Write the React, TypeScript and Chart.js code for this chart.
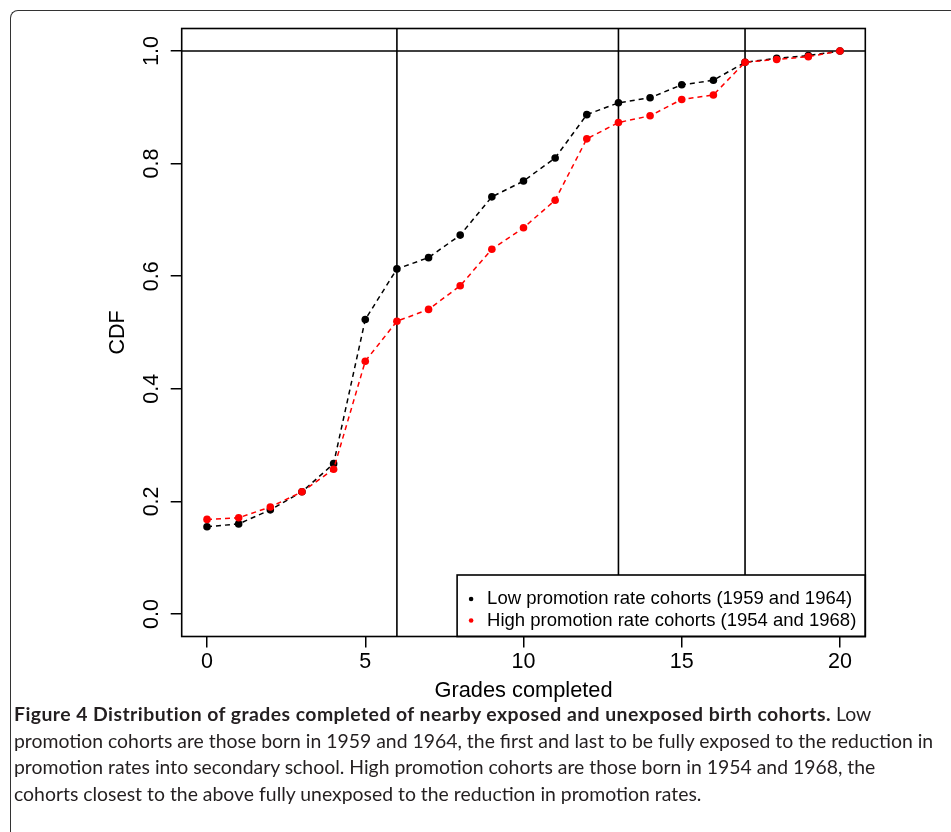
import React, { useEffect, useRef } from "react";
import { Chart, registerables } from "chart.js";

Chart.register(...registerables);

// ---------- data ----------
const grades = [0, 1, 2, 3, 4, 5, 6, 7, 8, 9, 10, 11, 12, 13, 14, 15, 16, 17, 18, 19, 20];
const lowPromotionCDF = [0.155, 0.160, 0.185, 0.217, 0.267, 0.523, 0.613, 0.633, 0.673, 0.741, 0.769, 0.810, 0.887, 0.908, 0.917, 0.940, 0.948, 0.980, 0.987, 0.992, 1.0];
const highPromotionCDF = [0.168, 0.171, 0.190, 0.217, 0.257, 0.449, 0.520, 0.541, 0.583, 0.648, 0.686, 0.735, 0.844, 0.873, 0.885, 0.914, 0.922, 0.980, 0.985, 0.990, 1.0];
const seriesLabels = ["Low promotion rate cohorts (1959 and 1964)", "High promotion rate cohorts (1954 and 1968)"];
const seriesColors = ["#000000", "#ff0000"];
const xTickValues = [0, 5, 10, 15, 20];
const yTickValues = [0, 0.2, 0.4, 0.6, 0.8, 1.0];
const verticalRefLines = [6, 13, 17];
const horizontalRefLines = [1];
const xAxisTitle = "Grades completed";
const yAxisTitle = "CDF";
const xRange = [-0.8, 20.8];
const yRange = [-0.04, 1.04];

const RFONT = '"Liberation Sans", Arial, Helvetica, sans-serif';
const CANVAS_W = 951;
const CANVAS_H = 832;

const decorPlugin = {
  id: "decor",
  beforeDatasetsDraw(chart: any) {
    const { ctx, chartArea: a, scales } = chart;
    const x = scales.x;
    const y = scales.y;
    ctx.save();
    ctx.strokeStyle = "#000";
    ctx.lineWidth = 1.6;
    for (const v of verticalRefLines) {
      const px = x.getPixelForValue(v);
      ctx.beginPath();
      ctx.moveTo(px, a.top);
      ctx.lineTo(px, a.bottom);
      ctx.stroke();
    }
    for (const v of horizontalRefLines) {
      const py = y.getPixelForValue(v);
      ctx.beginPath();
      ctx.moveTo(a.left, py);
      ctx.lineTo(a.right, py);
      ctx.stroke();
    }
    ctx.restore();
  },
  afterDatasetsDraw(chart: any) {
    const { ctx, chartArea: a } = chart;
    ctx.save();
    // legend (bottom right, inside plot)
    ctx.font = `18.5px ${RFONT}`;
    const tw = Math.max(...seriesLabels.map((l) => ctx.measureText(l).width));
    const boxW = 30 + tw + 9;
    const boxH = 61.5;
    const left = a.right - boxW;
    const top = a.bottom - boxH;
    ctx.fillStyle = "#fff";
    ctx.fillRect(left, top, boxW, boxH);
    ctx.strokeStyle = "#000";
    ctx.lineWidth = 1.6;
    ctx.strokeRect(left, top, boxW, boxH);
    const rows = [top + 24, top + 45.5];
    seriesLabels.forEach((label, i) => {
      ctx.fillStyle = seriesColors[i];
      ctx.beginPath();
      ctx.arc(left + 14, rows[i], 2.3, 0, Math.PI * 2);
      ctx.fill();
      ctx.fillStyle = "#000";
      ctx.textBaseline = "middle";
      ctx.textAlign = "left";
      ctx.fillText(label, left + 30, rows[i]);
    });
    // plot frame
    ctx.strokeStyle = "#000";
    ctx.lineWidth = 1.6;
    ctx.strokeRect(a.left, a.top, a.right - a.left, a.bottom - a.top);
    ctx.restore();
  },
};

export default function App() {
  const canvasRef = useRef<HTMLCanvasElement | null>(null);

  useEffect(() => {
    const canvas = canvasRef.current;
    if (!canvas) return;
    const makeData = (vals: number[]) => grades.map((g, i) => ({ x: g, y: vals[i] }));
    const common = {
      borderWidth: 1.5,
      borderDash: [5, 4],
      pointRadius: 3.8,
      pointBorderWidth: 0,
      pointHoverRadius: 3.8,
      fill: false,
      tension: 0,
    };
    const chart = new Chart(canvas, {
      type: "line",
      data: {
        datasets: [
          {
            ...common,
            label: seriesLabels[0],
            data: makeData(lowPromotionCDF),
            borderColor: seriesColors[0],
            backgroundColor: seriesColors[0],
            pointBackgroundColor: seriesColors[0],
            pointBorderColor: seriesColors[0],
            order: 1,
          },
          {
            ...common,
            label: seriesLabels[1],
            data: makeData(highPromotionCDF),
            borderColor: seriesColors[1],
            backgroundColor: seriesColors[1],
            pointBackgroundColor: seriesColors[1],
            pointBorderColor: seriesColors[1],
            order: 0,
          },
        ],
      },
      options: {
        responsive: false,
        devicePixelRatio: 1,
        animation: false,
        events: [],
        layout: { padding: { top: 28.5, right: 85.7, left: 0, bottom: 0 } },
        plugins: { legend: { display: false }, tooltip: { enabled: false }, title: { display: false } },
        scales: {
          x: {
            type: "linear",
            min: xRange[0],
            max: xRange[1],
            afterBuildTicks: (s: any) => {
              s.ticks = xTickValues.map((v) => ({ value: v }));
            },
            afterFit: (s: any) => {
              s.height = CANVAS_H - 636.5;
            },
            border: { display: false },
            grid: { drawOnChartArea: false, drawTicks: true, tickLength: 11, color: "#000", lineWidth: 1.5 },
            ticks: {
              autoSkip: false,
              maxRotation: 0,
              minRotation: 0,
              padding: 2,
              color: "#000",
              font: { family: RFONT, size: 21.5 },
              callback: (v: any) => String(v),
            },
            title: {
              display: true,
              text: xAxisTitle,
              color: "#000",
              font: { family: RFONT, size: 21.8 },
              padding: { top: 0, bottom: 128 },
            },
          },
          y: {
            type: "linear",
            min: yRange[0],
            max: yRange[1],
            afterBuildTicks: (s: any) => {
              s.ticks = yTickValues.map((v) => ({ value: v }));
            },
            afterFit: (s: any) => {
              s.width = 181.7;
            },
            border: { display: false },
            grid: { drawOnChartArea: false, drawTicks: true, tickLength: 11, color: "#000", lineWidth: 1.5 },
            ticks: {
              autoSkip: false,
              minRotation: 90,
              maxRotation: 90,
              crossAlign: "center",
              padding: 4,
              color: "#000",
              font: { family: RFONT, size: 21.5 },
              callback: (v: any) => Number(v).toFixed(1),
            },
            title: {
              display: true,
              text: yAxisTitle,
              color: "#000",
              font: { family: RFONT, size: 21.5 },
              padding: { top: 105, bottom: 0 },
            },
          },
        },
      },
      plugins: [decorPlugin],
    } as any);
    return () => chart.destroy();
  }, []);

  return (
    <div style={{ position: "absolute", left: 0, top: 0, width: CANVAS_W, height: CANVAS_H, overflow: "hidden", background: "#fff" }}>
      <div
        style={{
          position: "absolute",
          left: 10,
          top: 10,
          width: 1200,
          height: 1200,
          borderTop: "1px solid #333",
          borderLeft: "1px solid #333",
          borderTopLeftRadius: 8,
        }}
      />
      <canvas ref={canvasRef} width={CANVAS_W} height={CANVAS_H} style={{ position: "absolute", left: 0, top: 0, width: CANVAS_W, height: CANVAS_H }} />
      <div
        style={{
          position: "absolute",
          left: 14,
          top: 701,
          fontFamily: "Lato, 'Open Sans', sans-serif",
          fontSize: 19.4,
          lineHeight: "26.5px",
          color: "#231f20",
          whiteSpace: "nowrap",
        }}
      >
        <div>
          <b style={{ letterSpacing: "0.45px" }}>Figure 4 Distribution of grades completed of nearby exposed and unexposed birth cohorts.</b> Low
        </div>
        <div>promotion cohorts are those born in 1959 and 1964, the first and last to be fully exposed to the reduction in</div>
        <div>promotion rates into secondary school. High promotion cohorts are those born in 1954 and 1968, the</div>
        <div>cohorts closest to the above fully unexposed to the reduction in promotion rates.</div>
      </div>
    </div>
  );
}
